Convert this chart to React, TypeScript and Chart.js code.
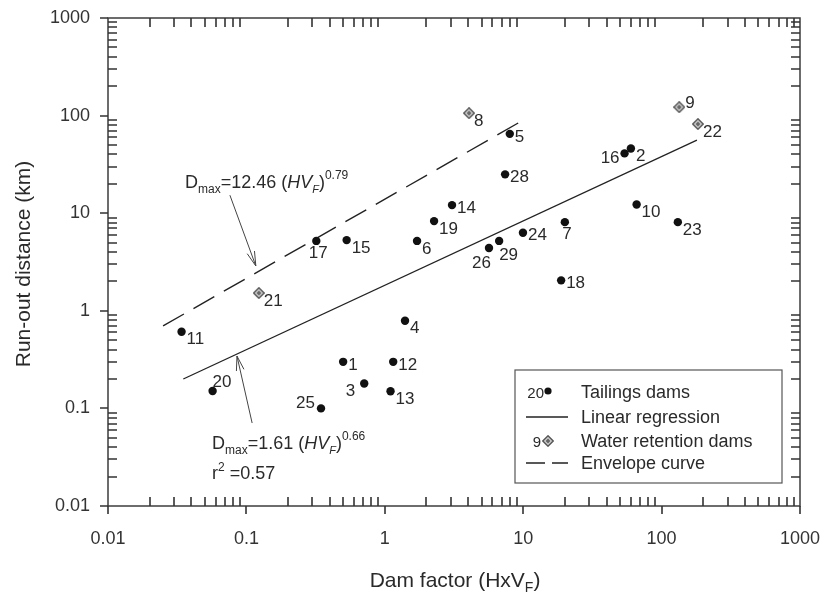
import React, { useEffect, useRef } from 'react';
import { Chart, registerables } from 'chart.js';
Chart.register(...registerables);

// ---------- data ----------
const tailingsIds = ['1', '2', '3', '4', '5', '6', '7', '10', '11', '12', '13', '14', '15', '16', '17', '18', '19', '20', '23', '24', '25', '26', '28', '29'];
const tailingsX = [0.5, 60, 0.71, 1.4, 8.0, 1.71, 20, 66, 0.034, 1.15, 1.1, 3.06, 0.53, 54, 0.32, 18.8, 2.27, 0.057, 131, 9.96, 0.346, 5.66, 7.4, 6.7];
const tailingsY = [0.3, 46, 0.18, 0.79, 65, 5.2, 8.1, 12.3, 0.61, 0.3, 0.15, 12.1, 5.3, 41, 5.2, 2.05, 8.3, 0.151, 8.1, 6.3, 0.1, 4.4, 25, 5.2];
const tailingsLabelPos = ['r', 'br', 'l2', 'br', 'r', 'br', 'b', 'br', 'br', 'r', 'br', 'r', 'br', 'l', 'b', 'r', 'br', 'tr', 'br', 'r', 'tl', 'bl', 'r', 'b2'];

const waterIds = ['8', '9', '21', '22'];
const waterX = [4.06, 134, 0.123, 183];
const waterY = [106, 122, 1.52, 82];
const waterLabelPos = ['br', 'ur', 'br', 'br'];

const regressionX = [0.035, 180];
const regressionY = [0.2, 56];
const envelopeX = [0.025, 9.2];
const envelopeY = [0.7, 84];

const xTickLabels = ['0.01', '0.1', '1', '10', '100', '1000'];
const yTickLabels = ['0.01', '0.1', '1', '10', '100', '1000'];
const axisMin = 0.01;
const axisMax = 1000;

// annotation anchors (data coordinates)
const envTextAnchor = { x: 0.036, y: 18.1 };
const envArrow = { x1: 0.076, y1: 15.3, x2: 0.117, y2: 2.88 };
const regTextAnchor = { x: 0.0564, y: 0.0384 };
const regTextAnchor2 = { x: 0.0564, y: 0.0189 };
const regArrow = { x1: 0.11, y1: 0.0708, x2: 0.0855, y2: 0.344 };

const FONT = "'Liberation Sans', Arial, Helvetica, sans-serif";
const TEXT = '#2a2a2a';

function makeDiamond(): HTMLCanvasElement {
  const c = document.createElement('canvas');
  c.width = 12;
  c.height = 12;
  const g = c.getContext('2d')!;
  g.beginPath();
  g.moveTo(6, 0.8);
  g.lineTo(11.2, 6);
  g.lineTo(6, 11.2);
  g.lineTo(0.8, 6);
  g.closePath();
  g.fillStyle = '#cfcfcf';
  g.fill();
  g.strokeStyle = '#555';
  g.lineWidth = 1.4;
  g.stroke();
  g.beginPath();
  g.moveTo(6, 3.6);
  g.lineTo(8.4, 6);
  g.lineTo(6, 8.4);
  g.lineTo(3.6, 6);
  g.closePath();
  g.fillStyle = '#666';
  g.fill();
  return c;
}

const placement: Record<string, { dx: number; dy: number; align: CanvasTextAlign }> = {
  r: { dx: 5, dy: 3, align: 'left' },
  br: { dx: 5, dy: 8, align: 'left' },
  tr: { dx: 0, dy: -9, align: 'left' },
  ur: { dx: 6, dy: -4, align: 'left' },
  b: { dx: 2, dy: 12, align: 'center' },
  b2: { dx: 0, dy: 14, align: 'left' },
  bl: { dx: 2, dy: 15, align: 'right' },
  l2: { dx: -9, dy: 8, align: 'right' },
  l: { dx: -5, dy: 5, align: 'right' },
  tl: { dx: -6, dy: -5, align: 'right' },
};

type Seg = { t: string; size: number; dy?: number; italic?: boolean };

function richWidth(ctx: CanvasRenderingContext2D, segs: Seg[]) {
  let w = 0;
  for (const s of segs) {
    ctx.font = `${s.italic ? 'italic ' : ''}${s.size}px ${FONT}`;
    w += ctx.measureText(s.t).width;
  }
  return w;
}

function drawRich(ctx: CanvasRenderingContext2D, segs: Seg[], x: number, y: number) {
  let cx = x;
  ctx.textAlign = 'left';
  ctx.textBaseline = 'alphabetic';
  for (const s of segs) {
    ctx.font = `${s.italic ? 'italic ' : ''}${s.size}px ${FONT}`;
    ctx.fillText(s.t, cx, y + (s.dy || 0));
    cx += ctx.measureText(s.t).width;
  }
}

function drawArrow(ctx: CanvasRenderingContext2D, x1: number, y1: number, x2: number, y2: number) {
  ctx.beginPath();
  ctx.moveTo(x1, y1);
  ctx.lineTo(x2, y2);
  const a = Math.atan2(y2 - y1, x2 - x1);
  const L = 15;
  const h = 0.26;
  ctx.moveTo(x2 - L * Math.cos(a - h), y2 - L * Math.sin(a - h));
  ctx.lineTo(x2, y2);
  ctx.lineTo(x2 - L * Math.cos(a + h), y2 - L * Math.sin(a + h));
  ctx.stroke();
}

function isMajor(v: number) {
  const l = Math.log10(v);
  return Math.abs(l - Math.round(l)) < 1e-6;
}

function logTickValues(min: number, max: number) {
  const out: number[] = [];
  const e0 = Math.floor(Math.log10(min) + 1e-9);
  const e1 = Math.ceil(Math.log10(max) - 1e-9);
  for (let e = e0; e <= e1; e++) {
    for (let m = 1; m <= 9; m++) {
      const v = m * Math.pow(10, e);
      if (v >= min * 0.999999 && v <= max * 1.000001) out.push(v);
    }
  }
  return out;
}

const decorPlugin = {
  id: 'decor',
  afterDraw(chart: any) {
    const ctx: CanvasRenderingContext2D = chart.ctx;
    const { left, right, top, bottom } = chart.chartArea;
    const xs = chart.scales.x;
    const ys = chart.scales.y;
    ctx.save();

    // frame
    ctx.strokeStyle = '#3c3c3c';
    ctx.lineWidth = 1.5;
    ctx.strokeRect(left, top, right - left, bottom - top);

    // tick marks
    ctx.lineWidth = 1.6;
    ctx.strokeStyle = '#333';
    ctx.beginPath();
    for (const v of logTickValues(xs.min, xs.max)) {
      const p = Math.round(xs.getPixelForValue(v));
      if (isMajor(v)) {
        ctx.moveTo(p, bottom);
        ctx.lineTo(p, bottom + 8);
      } else {
        ctx.moveTo(p, bottom);
        ctx.lineTo(p, bottom - 9);
        ctx.moveTo(p, top);
        ctx.lineTo(p, top + 9);
      }
    }
    for (const v of logTickValues(ys.min, ys.max)) {
      const p = Math.round(ys.getPixelForValue(v));
      if (isMajor(v)) {
        ctx.moveTo(left, p);
        ctx.lineTo(left - 8, p);
      } else {
        ctx.moveTo(left, p);
        ctx.lineTo(left + 9, p);
        ctx.moveTo(right, p);
        ctx.lineTo(right - 9, p);
      }
    }
    ctx.stroke();

    // point labels
    ctx.fillStyle = TEXT;
    ctx.font = `17px ${FONT}`;
    ctx.textBaseline = 'middle';
    const labelSets = [
      { ds: 0, ids: tailingsIds, pos: tailingsLabelPos },
      { ds: 1, ids: waterIds, pos: waterLabelPos },
    ];
    for (const set of labelSets) {
      const meta = chart.getDatasetMeta(set.ds);
      meta.data.forEach((el: any, i: number) => {
        const pl = placement[set.pos[i]];
        ctx.textAlign = pl.align;
        ctx.fillText(set.ids[i], el.x + pl.dx, el.y + pl.dy);
      });
    }

    // annotations
    ctx.fillStyle = TEXT;
    const envSegs: Seg[] = [
      { t: 'D', size: 18 },
      { t: 'max', size: 12, dy: 5 },
      { t: '=12.46 (', size: 18 },
      { t: 'HV', size: 18, italic: true },
      { t: 'F', size: 11, dy: 5, italic: true },
      { t: ')', size: 18 },
      { t: '0.79', size: 12, dy: -9 },
    ];
    drawRich(ctx, envSegs, xs.getPixelForValue(envTextAnchor.x), ys.getPixelForValue(envTextAnchor.y));
    const regSegs: Seg[] = [
      { t: 'D', size: 18 },
      { t: 'max', size: 12, dy: 5 },
      { t: '=1.61 (', size: 18 },
      { t: 'HV', size: 18, italic: true },
      { t: 'F', size: 11, dy: 5, italic: true },
      { t: ')', size: 18 },
      { t: '0.66', size: 12, dy: -9 },
    ];
    drawRich(ctx, regSegs, xs.getPixelForValue(regTextAnchor.x), ys.getPixelForValue(regTextAnchor.y));
    const r2Segs: Seg[] = [
      { t: 'r', size: 18 },
      { t: '2', size: 12, dy: -8 },
      { t: ' =0.57', size: 18 },
    ];
    drawRich(ctx, r2Segs, xs.getPixelForValue(regTextAnchor2.x), ys.getPixelForValue(regTextAnchor2.y));

    ctx.strokeStyle = '#444';
    ctx.lineWidth = 1;
    drawArrow(ctx, xs.getPixelForValue(envArrow.x1), ys.getPixelForValue(envArrow.y1), xs.getPixelForValue(envArrow.x2), ys.getPixelForValue(envArrow.y2));
    drawArrow(ctx, xs.getPixelForValue(regArrow.x1), ys.getPixelForValue(regArrow.y1), xs.getPixelForValue(regArrow.x2), ys.getPixelForValue(regArrow.y2));

    // legend
    const bx1 = right - 285;
    const bx2 = right - 18;
    const by1 = bottom - 136;
    const by2 = bottom - 23;
    ctx.strokeStyle = '#555';
    ctx.lineWidth = 1.2;
    ctx.strokeRect(bx1, by1, bx2 - bx1, by2 - by1);
    const rows = [by1 + 22, by1 + 47, by1 + 71, by1 + 93];
    const tx = bx1 + 66;
    ctx.fillStyle = TEXT;
    ctx.font = `18px ${FONT}`;
    ctx.textAlign = 'left';
    ctx.textBaseline = 'middle';
    const legendTexts = ['Tailings dams', 'Linear regression', 'Water retention dams', 'Envelope curve'];
    legendTexts.forEach((t, i) => ctx.fillText(t, tx, rows[i] + 1));
    // samples
    ctx.font = `15px ${FONT}`;
    ctx.textAlign = 'right';
    ctx.fillText('20', bx1 + 29, rows[0] + 2);
    ctx.beginPath();
    ctx.arc(bx1 + 33, rows[0] - 1, 3.6, 0, Math.PI * 2);
    ctx.fillStyle = '#111';
    ctx.fill();
    ctx.strokeStyle = '#222';
    ctx.lineWidth = 1.3;
    ctx.beginPath();
    ctx.moveTo(bx1 + 11, rows[1]);
    ctx.lineTo(bx1 + 53, rows[1]);
    ctx.stroke();
    ctx.fillStyle = TEXT;
    ctx.fillText('9', bx1 + 26, rows[2] + 2);
    const d = makeDiamond();
    ctx.drawImage(d, bx1 + 33 - 6, rows[2] - 6);
    ctx.beginPath();
    ctx.moveTo(bx1 + 11, rows[3]);
    ctx.lineTo(bx1 + 30, rows[3]);
    ctx.moveTo(bx1 + 37, rows[3]);
    ctx.lineTo(bx1 + 53, rows[3]);
    ctx.stroke();

    // axis titles
    ctx.fillStyle = TEXT;
    ctx.save();
    ctx.translate(30, (top + bottom) / 2 + 2);
    ctx.rotate(-Math.PI / 2);
    ctx.font = `21px ${FONT}`;
    ctx.textAlign = 'center';
    ctx.textBaseline = 'alphabetic';
    ctx.fillText('Run-out distance (km)', 0, 0);
    ctx.restore();

    const xt: Seg[] = [
      { t: 'Dam factor (HxV', size: 21 },
      { t: 'F', size: 14, dy: 5 },
      { t: ')', size: 21 },
    ];
    const w = richWidth(ctx, xt);
    drawRich(ctx, xt, (left + right) / 2 + 1 - w / 2, 587);

    ctx.restore();
  },
};

export default function App() {
  const ref = useRef<HTMLCanvasElement>(null);
  useEffect(() => {
    const diamond = makeDiamond();
    const chart = new Chart(ref.current!, {
      type: 'scatter',
      data: {
        datasets: [
          {
            label: 'Tailings dams',
            data: tailingsX.map((x, i) => ({ x, y: tailingsY[i] })),
            pointStyle: 'circle',
            pointRadius: 4.2,
            backgroundColor: '#111',
            borderColor: '#111',
            borderWidth: 0,
          },
          {
            label: 'Water retention dams',
            data: waterX.map((x, i) => ({ x, y: waterY[i] })),
            pointStyle: diamond as any,
            pointRadius: 6,
          },
          {
            label: 'Linear regression',
            type: 'line' as any,
            data: regressionX.map((x, i) => ({ x, y: regressionY[i] })),
            showLine: true,
            pointRadius: 0,
            borderColor: '#222',
            borderWidth: 1.3,
            fill: false,
          },
          {
            label: 'Envelope curve',
            type: 'line' as any,
            data: envelopeX.map((x, i) => ({ x, y: envelopeY[i] })),
            showLine: true,
            pointRadius: 0,
            borderColor: '#222',
            borderWidth: 1.4,
            borderDash: [24, 11],
            fill: false,
          },
        ] as any,
      },
      options: {
        animation: false,
        responsive: false,
        layout: { padding: { left: 0, top: 18, right: 25, bottom: 0 } },
        plugins: { legend: { display: false }, tooltip: { enabled: false } },
        scales: {
          x: {
            type: 'logarithmic',
            position: 'bottom',
            min: axisMin,
            max: axisMax,
            afterFit: (s: any) => {
              s.height = 87;
              s.paddingLeft = 0;
              s.paddingRight = 0;
            },
            grid: { display: true, drawOnChartArea: false, drawTicks: true, tickLength: 8, color: 'rgba(0,0,0,0)' },
            border: { display: false },
            ticks: {
              autoSkip: false,
              maxRotation: 0,
              padding: 14,
              color: '#333',
              font: { family: FONT, size: 18 },
              callback: (v: any) => (isMajor(Number(v)) ? xTickLabels[Math.round(Math.log10(Number(v))) + 2] : ''),
            },
          },
          y: {
            type: 'logarithmic',
            position: 'left',
            min: axisMin,
            max: axisMax,
            afterFit: (s: any) => {
              s.width = 108;
              s.paddingTop = 0;
              s.paddingBottom = 0;
            },
            grid: { display: true, drawOnChartArea: false, drawTicks: true, tickLength: 8, color: 'rgba(0,0,0,0)' },
            border: { display: false },
            ticks: {
              autoSkip: false,
              padding: 10,
              color: '#333',
              font: { family: FONT, size: 18 },
              callback: (v: any) => (isMajor(Number(v)) ? yTickLabels[Math.round(Math.log10(Number(v))) + 2] : ''),
            },
          },
        },
      } as any,
      plugins: [decorPlugin],
    });
    return () => chart.destroy();
  }, []);
  return (
    <div style={{ position: 'absolute', left: 0, top: 0, width: 825, height: 593, background: '#fff' }}>
      <canvas ref={ref} width={825} height={593} style={{ display: 'block' }} />
    </div>
  );
}
